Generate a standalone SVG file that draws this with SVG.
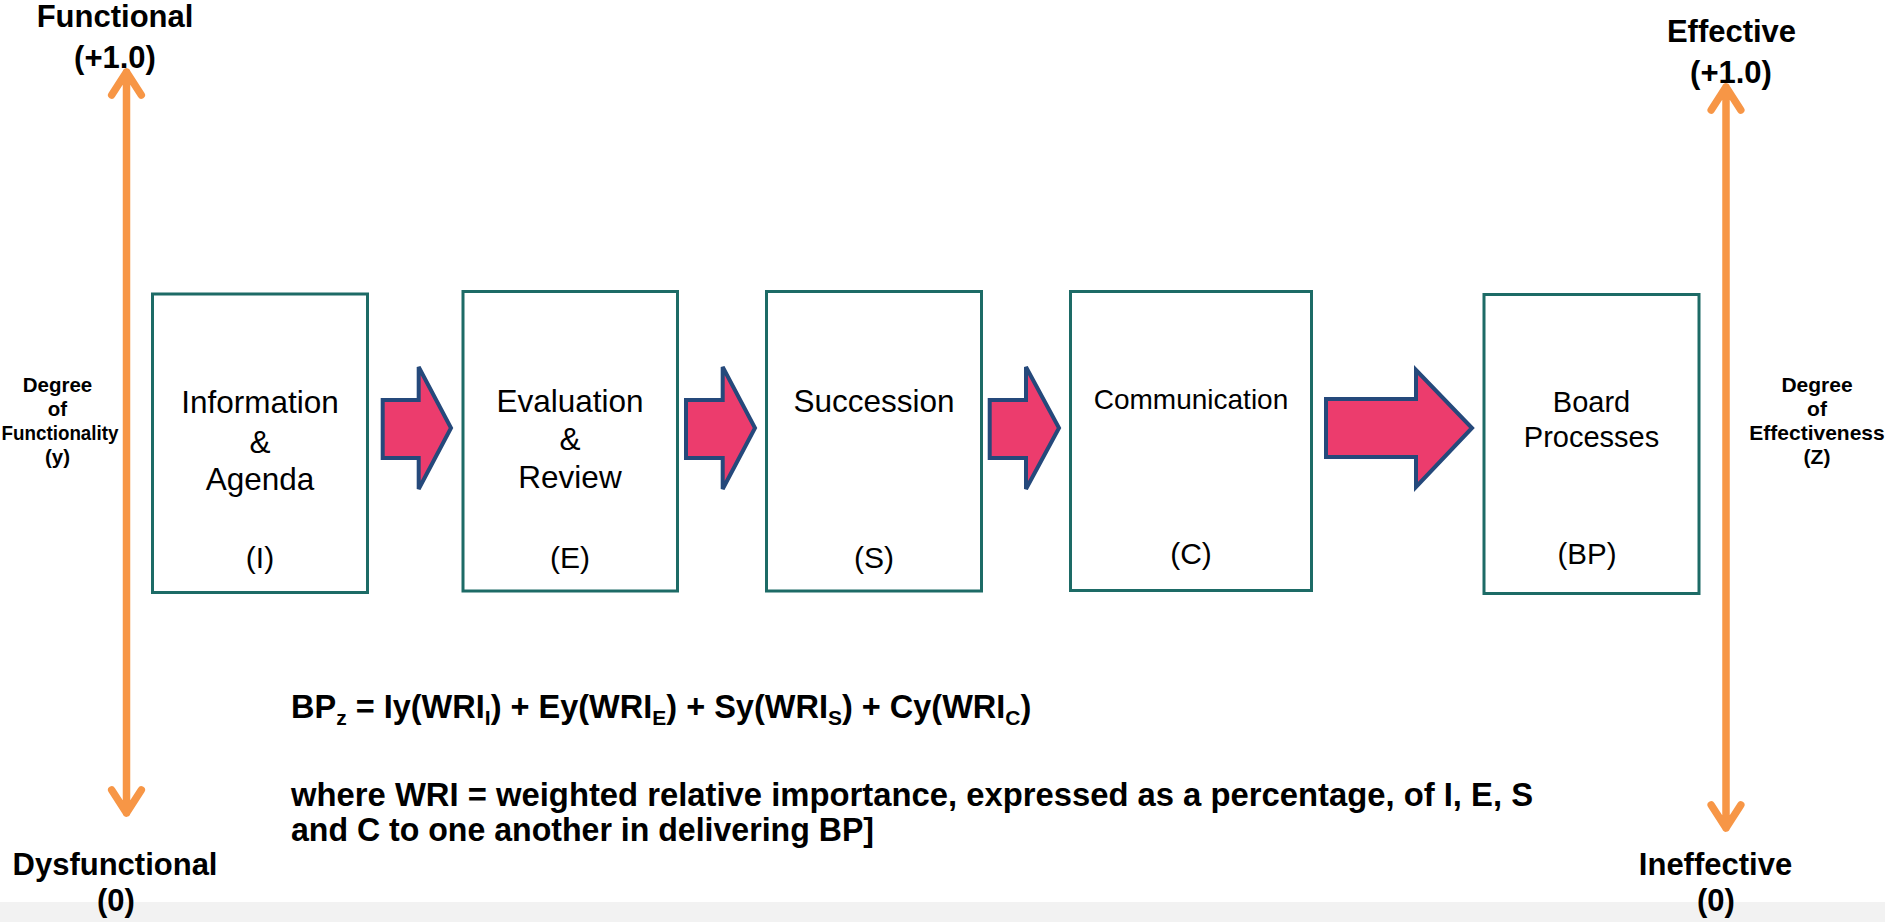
<svg xmlns="http://www.w3.org/2000/svg" width="1885" height="922" viewBox="0 0 1885 922">
<style>
.t{font-family:"Liberation Sans",Arial,sans-serif;fill:#000;text-anchor:middle}
.b{font-weight:bold}
.box{fill:#fff;stroke:#1d6b66;stroke-width:3}
.arr{fill:#ec3c6d;stroke:#25497b;stroke-width:4;stroke-linejoin:miter}
.ax{fill:none;stroke:#f79646;stroke-width:7.5;stroke-linecap:round;stroke-linejoin:round}
.f{font-family:"Liberation Sans",Arial,sans-serif;font-weight:bold;font-size:32.5px;fill:#000}
</style>
<rect x="0" y="0" width="1885" height="922" fill="#fff"/>
<rect x="0" y="902" width="1885" height="20" fill="#f2f2f2"/>

<g id="axis-left">
<path class="ax" d="M126.5,72 L126.5,813 M111.7,95 L126.5,72 L141.3,95 M111.7,790 L126.5,813 L141.3,790"/>
<text class="t b" x="115" y="27" font-size="31">Functional</text>
<text class="t b" x="115" y="68" font-size="31">(+1.0)</text>
<text class="t b" x="115" y="875" font-size="31">Dysfunctional</text>
<text class="t b" x="116" y="911" font-size="31">(0)</text>
<text class="t b" font-size="20.5"><tspan x="57.5" y="392">Degree</tspan><tspan x="57.5" y="416">of</tspan><tspan x="57.5" y="464">(y)</tspan></text>
<text class="t b" font-size="20.5" x="60" y="440" textLength="117" lengthAdjust="spacingAndGlyphs">Functionality</text>
</g>

<g id="axis-right">
<path class="ax" d="M1726,87 L1726,828 M1711.2,110 L1726,87 L1740.8,110 M1711.2,805 L1726,828 L1740.8,805"/>
<text class="t b" x="1731.5" y="42" font-size="31">Effective</text>
<text class="t b" x="1731" y="83" font-size="31">(+1.0)</text>
<text class="t b" x="1715.5" y="875" font-size="31">Ineffective</text>
<text class="t b" x="1716" y="911" font-size="31">(0)</text>
<text class="t b" font-size="21"><tspan x="1817" y="392">Degree</tspan><tspan x="1817" y="416">of</tspan><tspan x="1817" y="440">Effectiveness</tspan><tspan x="1817" y="464">(Z)</tspan></text>
</g>

<g id="node-I">
<rect class="box" x="152.5" y="294" width="215" height="298.5"/>
<text class="t" font-size="31.5"><tspan x="260" y="413">Information</tspan><tspan x="260" y="452.5">&amp;</tspan><tspan x="260" y="490">Agenda</tspan></text>
<text class="t" x="260" y="568" font-size="30">(I)</text>
</g>

<g id="node-E">
<rect class="box" x="463" y="291.5" width="214.5" height="299.5"/>
<text class="t" font-size="31.5"><tspan x="570" y="411.5">Evaluation</tspan><tspan x="570" y="450">&amp;</tspan><tspan x="570" y="488">Review</tspan></text>
<text class="t" x="570" y="568" font-size="30">(E)</text>
</g>

<g id="node-S">
<rect class="box" x="766.5" y="291.5" width="215" height="299.5"/>
<text class="t" x="874" y="411.5" font-size="31.5">Succession</text>
<text class="t" x="874" y="568" font-size="30">(S)</text>
</g>

<g id="node-C">
<rect class="box" x="1070.5" y="291.5" width="241" height="299"/>
<text class="t" x="1191" y="408.5" font-size="28">Communication</text>
<text class="t" x="1191" y="563.5" font-size="30">(C)</text>
</g>

<g id="node-BP">
<rect class="box" x="1484" y="294.5" width="215" height="299"/>
<text class="t" font-size="29"><tspan x="1591.5" y="411.5">Board</tspan><tspan x="1591.5" y="446.5">Processes</tspan></text>
<text class="t" x="1587" y="563.5" font-size="29.5">(BP)</text>
</g>

<g id="connectors">
<path class="arr" d="M382.7,400 L418.7,400 L418.7,367 L451,428 L418.7,489 L418.7,458 L382.7,458 Z"/>
<path class="arr" d="M686,400 L722.7,400 L722.7,367 L755,428 L722.7,489 L722.7,458 L686,458 Z"/>
<path class="arr" d="M989.7,400 L1026,400 L1026,367 L1059,428 L1026,489 L1026,458 L989.7,458 Z"/>
<path class="arr" d="M1326,399 L1416,399 L1416,370 L1472,428 L1416,487 L1416,457 L1326,457 Z"/>
</g>

<g id="formula">
<text class="f" x="291" y="718">BP<tspan font-size="21" dy="7">z</tspan><tspan dy="-7"> = Iy(WRI</tspan><tspan font-size="21" dy="7">I</tspan><tspan dy="-7">) + Ey(WRI</tspan><tspan font-size="21" dy="7">E</tspan><tspan dy="-7">) + Sy(WRI</tspan><tspan font-size="21" dy="7">S</tspan><tspan dy="-7">) + Cy(WRI</tspan><tspan font-size="21" dy="7">C</tspan><tspan dy="-7">)</tspan></text>
<text class="f" x="291" y="806" textLength="1242" lengthAdjust="spacingAndGlyphs">where WRI = weighted relative importance, expressed as a percentage, of I, E, S</text>
<text class="f" x="291" y="841" textLength="583" lengthAdjust="spacingAndGlyphs">and C to one another in delivering BP]</text>
</g>
</svg>
